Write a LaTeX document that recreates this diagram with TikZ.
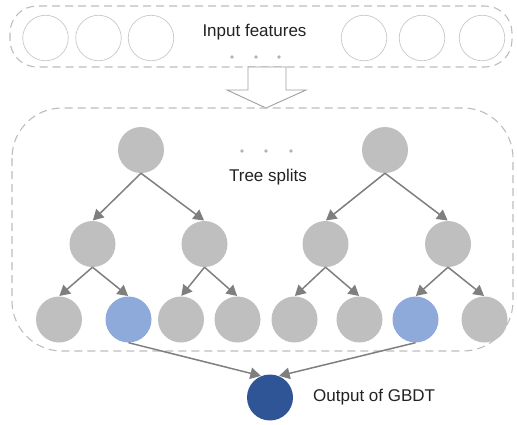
\documentclass[tikz,border=0pt]{standalone}
\usepackage{fontspec}
\setmainfont{Liberation Sans}
\usetikzlibrary{arrows.meta}
\definecolor{nodegray}{HTML}{BFBFBF}
\definecolor{leafblue}{HTML}{8EAADB}
\definecolor{outblue}{HTML}{2F5597}
\definecolor{edgegray}{HTML}{7F7F7F}
\definecolor{framegray}{HTML}{BDBDBD}
\definecolor{ringgray}{HTML}{C8C8C8}
\definecolor{txt}{HTML}{222222}
\tikzset{
  frame/.style={draw=framegray, line width=1.1pt, dash pattern=on 8pt off 5pt},
  feat/.style={circle, draw=ringgray, line width=0.7pt, minimum size=45.5pt, inner sep=0pt},
  tnode/.style={circle, fill=nodegray, minimum size=46pt, inner sep=0pt},
  bleaf/.style={tnode, fill=leafblue},
  onode/.style={tnode, fill=outblue},
  dot/.style={circle, fill=#1, minimum size=3.6pt, inner sep=0pt},
  edge/.style={draw=edgegray, line width=1.5pt, -{Triangle[length=10.5pt,width=11.5pt]}, shorten >=0.5pt},
  lbl/.style={text=txt, font=\fontsize{17pt}{20pt}\selectfont, inner sep=0pt},
}
\begin{document}
\begin{tikzpicture}[x=1pt, y=-1pt]
\useasboundingbox (0,0) rectangle (517,424);

% input layer frame and feature slots
\draw[frame, rounded corners=27pt] (10,6) rectangle (512,67);
\node[feat] (f1) at (45.5,38) {};
\node[feat] (f2) at (98.5,38) {};
\node[feat] (f3) at (151,38) {};
\node[feat] (f4) at (364,38) {};
\node[feat] (f5) at (422,38) {};
\node[feat] (f6) at (482,38) {};
\node[lbl] (inlbl) at (254.5,32) {Input features};
\node[dot=ringgray!70!gray] (d1) at (232,57) {};
\node[dot=ringgray!70!gray] (d2) at (256,57) {};
\node[dot=ringgray!70!gray] (d3) at (279,57) {};

% hollow block arrow between the two stages
\draw[draw=gray!75, line width=0.9pt, fill=white, line join=miter]
  (248,67) -- (248,90) -- (227,90) -- (266,108) -- (306,90) -- (286,90) -- (286,67) -- cycle;

% ensemble frame
\draw[frame, rounded corners=50pt] (12,108) rectangle (513,351);

\node[lbl] (trlbl) at (268,177.5) {Tree splits};
\node[dot=ringgray!70!gray] (e1) at (242,151) {};
\node[dot=ringgray!70!gray] (e2) at (266,151) {};
\node[dot=ringgray!70!gray] (e3) at (291,151) {};

% first tree
\node[tnode] (r1) at (141,150) {};
\node[tnode] (a1) at (92.5,244) {};
\node[tnode] (a2) at (204.5,244) {};
\node[tnode] (l1) at (59,319.5) {};
\node[bleaf] (l2) at (128.5,319.5) {};
\node[tnode] (l3) at (181,319.5) {};
\node[tnode] (l4) at (237.5,319.5) {};

% second tree
\node[tnode] (r2) at (385,150) {};
\node[tnode] (b1) at (325.5,244) {};
\node[tnode] (b2) at (448,244) {};
\node[tnode] (l5) at (294.5,319.5) {};
\node[tnode] (l6) at (359.5,319.5) {};
\node[bleaf] (l7) at (415.5,319.5) {};
\node[tnode] (l8) at (484.5,319.5) {};

% output
\node[onode] (out) at (270,397.5) {};
\node[lbl, anchor=west] (outlbl) at (313,397) {Output of GBDT};

% split edges
\foreach \p/\c in {r1/a1, r1/a2, a1/l1, a1/l2, a2/l3, a2/l4,
                   r2/b1, r2/b2, b1/l5, b1/l6, b2/l7, b2/l8}
  \draw[edge] (\p.south) -- (\c.north);

% selected leaves feed the output
\draw[edge] (l2.south) -- (out.112);
\draw[edge] (l7.south) -- (out.68);
\end{tikzpicture}
\end{document}
